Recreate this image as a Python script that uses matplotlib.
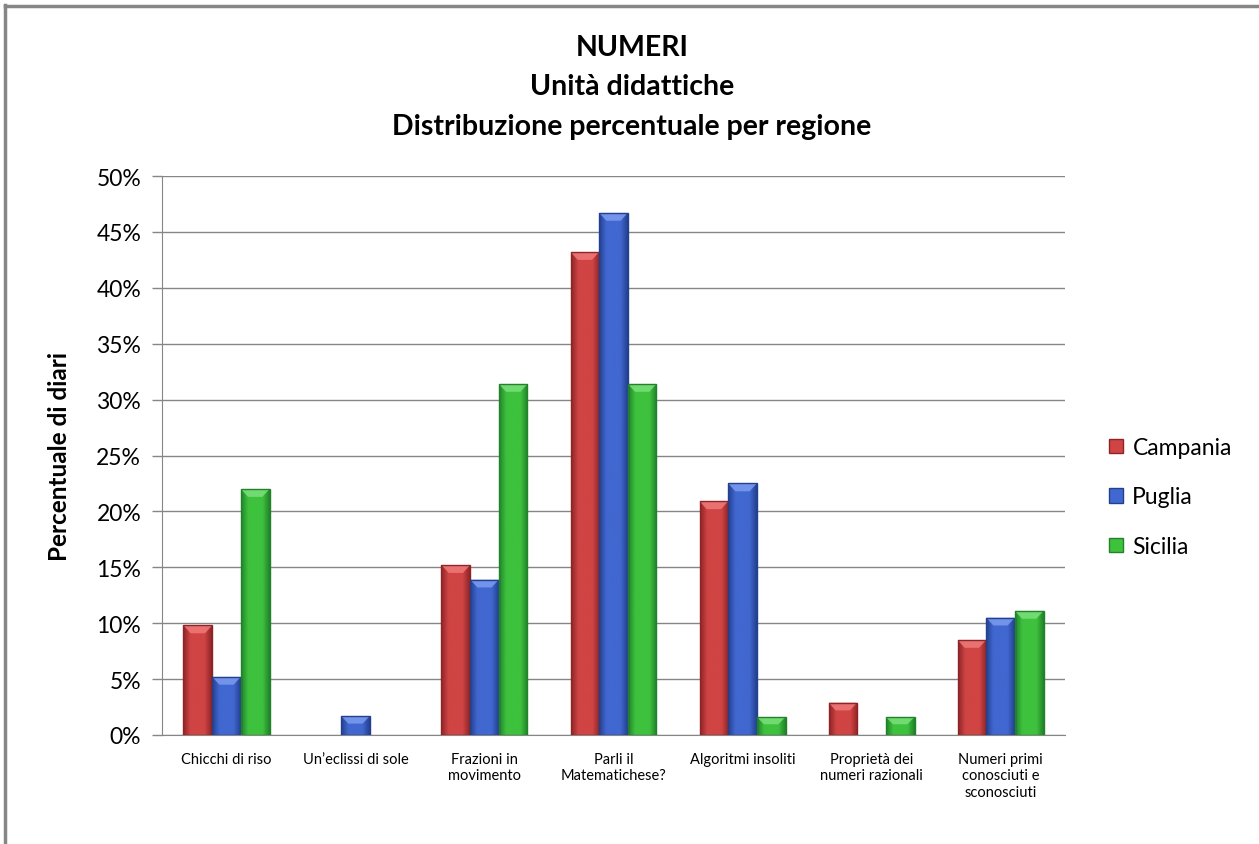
import numpy as np
import matplotlib
matplotlib.use("Agg")
import matplotlib.pyplot as plt
from matplotlib.colors import LinearSegmentedColormap
from matplotlib.lines import Line2D
from matplotlib.patches import Rectangle, Polygon

plt.rcParams['font.family'] = ['Lato', 'DejaVu Sans']

categories = ["Chicchi di riso", "Un\u2019eclissi di sole", "Frazioni in\nmovimento",
              "Parli il\nMatematichese?", "Algoritmi insoliti",
              "Propriet\u00e0 dei\nnumeri razionali",
              "Numeri primi\nconosciuti e\nsconosciuti"]
series_names = ["Campania", "Puglia", "Sicilia"]
campania = [9.8, 0.0, 15.2, 43.2, 20.9, 2.9, 8.5]
puglia = [5.2, 1.7, 13.9, 46.7, 22.5, 0.0, 10.5]
sicilia = [22.0, 0.0, 31.4, 31.4, 1.6, 1.6, 11.1]
yticks = [0, 5, 10, 15, 20, 25, 30, 35, 40, 45, 50]
ytick_labels = ["0%", "5%", "10%", "15%", "20%", "25%", "30%", "35%", "40%", "45%", "50%"]

values = [campania, puglia, sicilia]
base_colors = ["#D04444", "#4168D0", "#3EC23E"]
dark_colors = ["#8E2426", "#23408F", "#21822A"]
light_colors = ["#F07A7A", "#7D9CF0", "#7BE07B"]

fig = plt.figure(figsize=(12.59, 8.45), dpi=100)
ax = fig.add_axes([162/1259, 1-736/845, (1065-162)/1259, (736-177)/845])

x = np.arange(len(categories))
bw = 1/4.5
for i, (vals, base, dark, light) in enumerate(zip(values, base_colors, dark_colors, light_colors)):
    offs = (i - 1) * bw
    bars = ax.bar(x + offs, vals, width=bw, color=base, linewidth=0,
                  zorder=3, label=series_names[i])
    for b in bars:
        h = b.get_height()
        if h <= 0:
            continue
        x0 = b.get_x()
        w = b.get_width()
        grad = np.linspace(0, 1, 64).reshape(1, -1)
        im = ax.imshow(grad, cmap=LinearSegmentedColormap.from_list("g", [dark, base, base, base, dark]),
                       extent=[x0, x0 + w, 0, h], aspect='auto', zorder=3.5,
                       interpolation='bicubic')
        im.set_clip_path(b)
        bev = min(0.7, h * 0.4)
        ax.add_patch(Polygon([[x0, h], [x0 + w, h], [x0 + w * 0.75, h - bev], [x0 + w * 0.25, h - bev]],
                             closed=True, facecolor=light, edgecolor='none', zorder=3.8, alpha=0.85))
        ax.add_patch(Rectangle((x0, 0), w, h, facecolor='none', edgecolor=dark, linewidth=1.0, zorder=4))

ax.set_xlim(-0.5, len(categories) - 0.5)
ax.set_ylim(0, 50)
ax.set_yticks(yticks)
ax.set_yticklabels(ytick_labels, fontsize=16.5)
ax.set_xticks(x)
ax.set_xticklabels(categories, fontsize=10.5, linespacing=1.25)
ax.tick_params(axis='x', length=0, pad=12)
ax.tick_params(axis='y', length=7, width=1, color='#868686', direction='out', pad=8)
ax.yaxis.grid(True, color='#868686', linewidth=1.0, zorder=0)
ax.set_axisbelow(True)
for s in ['top', 'right']:
    ax.spines[s].set_visible(False)
ax.spines['left'].set_color('#868686')
ax.spines['bottom'].set_color('#868686')

ax.set_ylabel("Percentuale di diari", fontsize=17.5, fontweight='bold')
ax.yaxis.set_label_coords((71 - 162) / (1065 - 162), 0.5)

title_x = 632 / 1259
fig.text(title_x, 1-48/845, "NUMERI", ha='center', va='center', fontsize=20.5, fontweight='bold')
fig.text(title_x, 1-87/845, "Unit\u00e0 didattiche", ha='center', va='center', fontsize=20.5, fontweight='bold')
fig.text(title_x, 1-127/845, "Distribuzione percentuale per regione", ha='center', va='center',
         fontsize=20.5, fontweight='bold')

handles = [Rectangle((0, 0), 1, 1, facecolor=c, edgecolor=d) for c, d in zip(base_colors, dark_colors)]
fig.legend(handles, series_names, loc='center left', bbox_to_anchor=(1098/1259, 1-498/845),
           frameon=False, fontsize=16.5, handlelength=0.6, handleheight=0.6, labelspacing=1.25,
           handletextpad=0.4, borderpad=0)

fig.add_artist(Line2D([5/1259, 5/1259], [0, 1-6/845], color='#868686', linewidth=2.5))
fig.add_artist(Line2D([5/1259, 1], [1-7/845, 1-7/845], color='#868686', linewidth=2.5))

fig.savefig("out.png", dpi=100)
